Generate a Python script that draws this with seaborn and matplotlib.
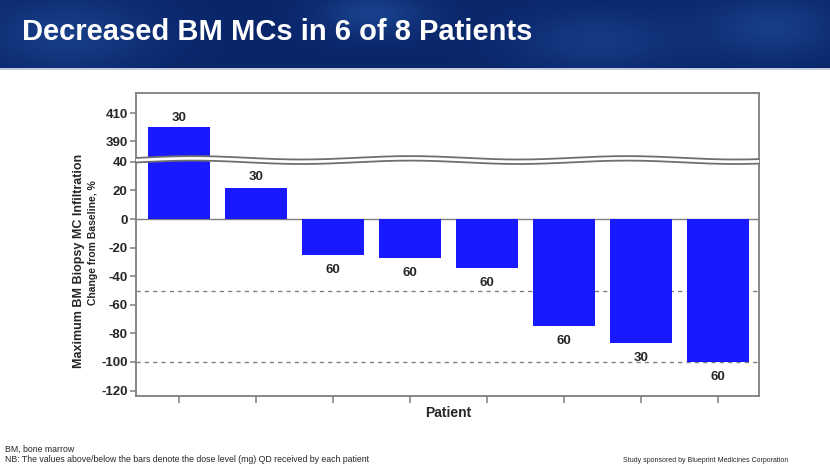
import numpy as np
import pandas as pd
import matplotlib
matplotlib.use("Agg")
import matplotlib.pyplot as plt
import seaborn as sns
from matplotlib.lines import Line2D
from matplotlib.patches import Polygon

# ---- data ----
patients = ["P1", "P2", "P3", "P4", "P5", "P6", "P7", "P8"]
change_pct = [400, 22, -25, -27, -34, -75, -87, -100]
dose_mg = [30, 30, 60, 60, 60, 60, 30, 60]
lower_ticks = [-120, -100, -80, -60, -40, -20, 0, 20, 40]
upper_ticks = [390, 410]
ref_lines = [-50, -100]

title = "Decreased BM MCs in 6 of 8 Patients"
ylabel1 = "Maximum BM Biopsy MC Infiltration"
ylabel2 = "Change from Baseline, %"
xlabel = "Patient"
foot1 = "BM, bone marrow"
foot2 = "NB: The values above/below the bars denote the dose level (mg) QD received by each patient"
foot3 = "Study sponsored by Blueprint Medicines Corporation"

df = pd.DataFrame({"patient": patients, "change": change_pct, "dose": dose_mg})

sns.set_theme(style="white")
plt.rcParams["font.family"] = ["Liberation Sans", "DejaVu Sans"]

W, H = 830, 467
fig = plt.figure(figsize=(W / 100, H / 100), dpi=100)
fig.patch.set_facecolor("white")

def fx(px):
    return px / W

def fy(py):
    return 1 - py / H

# ---- header banner ----
bax = fig.add_axes([0, fy(68), 1, 68 / H])
bax.set_axis_off()
xx, yy = np.meshgrid(np.linspace(0, 1, 400), np.linspace(0, 1, 40))
base = np.array([0.04, 0.15, 0.42])
light = np.array([0.12, 0.30, 0.60])
blob = (0.6 * np.exp(-((xx - 0.08) ** 2 / 0.01 + (yy - 0.5) ** 2 / 0.3))
        + 0.7 * np.exp(-((xx - 0.45) ** 2 / 0.004 + (yy - 0.2) ** 2 / 0.1))
        + 0.5 * np.exp(-((xx - 0.72) ** 2 / 0.01 + (yy - 0.6) ** 2 / 0.2))
        + 0.6 * np.exp(-((xx - 0.93) ** 2 / 0.006 + (yy - 0.4) ** 2 / 0.2)))
blob = np.clip(blob, 0, 1)[..., None]
img = base * (1 - blob) + light * blob
bax.imshow(img, aspect="auto", extent=[0, 1, 0, 1], origin="upper")
bax.set_xlim(0, 1)
bax.set_ylim(0, 1)
fig.add_artist(Line2D([0, 1], [fy(68.5), fy(68.5)], transform=fig.transFigure,
                      color="#b8c4d8", lw=1.2, zorder=3))
fig.text(fx(22), fy(32), title, color="white", fontsize=21, fontweight="bold",
         va="center", ha="left")

# ---- axes ----
left, right = fx(136), fx(759)
ax_up = fig.add_axes([left, fy(158), right - left, fy(93) - fy(158)])
ax_lo = fig.add_axes([left, fy(396), right - left, fy(160) - fy(396)])

bar_color = "#1919ff"
for ax in (ax_up, ax_lo):
    sns.barplot(data=df, x="patient", y="change", ax=ax, color=bar_color,
                saturation=1, width=0.8, edgecolor="none", errorbar=None)
    ax.set_xlim(-0.56, 7.53)
    ax.set_xlabel("")
    ax.set_ylabel("")
    for s in ax.spines.values():
        s.set_color("#7f7f7f")
        s.set_linewidth(1.3)
    ax.tick_params(axis="y", which="both", left=True, length=4, width=1.1,
                   color="#7f7f7f", labelsize=9.5, pad=2)

ax_up.set_ylim(377.9, 424.3)
ax_up.set_yticks(upper_ticks)
ax_up.set_yticklabels([str(t) for t in upper_ticks], fontweight="bold", fontsize=9.5)
ax_up.set_xticks([])
ax_up.spines["bottom"].set_visible(False)

ax_lo.set_ylim(-123.8, 41.3)
ax_lo.set_yticks(lower_ticks)
ax_lo.set_yticklabels([str(t) for t in lower_ticks], fontweight="bold", fontsize=9.5)
ax_lo.spines["top"].set_visible(False)
ax_lo.set_xticks(range(len(patients)))
ax_lo.set_xticklabels([""] * len(patients))
ax_lo.tick_params(axis="x", bottom=True, length=5, width=1.1, color="#7f7f7f",
                  direction="out")
ax_lo.axhline(0, color="#7f7f7f", lw=1.0, zorder=0.5)
for v in ref_lines:
    ax_lo.axhline(v, color="#7f7f7f", lw=1.0, ls=(0, (3, 3)), zorder=0.4)

# ---- bar labels ----
for i, (v, d) in enumerate(zip(change_pct, dose_mg)):
    if v > 300:
        ax_up.annotate(str(d), (i, v), xytext=(0, 2.5), textcoords="offset points",
                       ha="center", va="bottom", fontsize=9.5, fontweight="bold")
    elif v >= 0:
        ax_lo.annotate(str(d), (i, v), xytext=(0, 3), textcoords="offset points",
                       ha="center", va="bottom", fontsize=9.5, fontweight="bold")
    else:
        ax_lo.annotate(str(d), (i, v), xytext=(0, -6.5), textcoords="offset points",
                       ha="center", va="top", fontsize=9.5, fontweight="bold")

# ---- axis break (wavy band) ----
xs = np.linspace(136, 759, 300)
wave = 1.7 * np.cos(2 * np.pi * (xs - 410) / 217)
y_top = 157.8 - wave
y_bot = 162.3 - wave
poly_pts = np.column_stack([np.r_[fx(xs), fx(xs[::-1])],
                            np.r_[fy(y_top), fy(y_bot[::-1])]])
fig.add_artist(Polygon(poly_pts, closed=True, transform=fig.transFigure,
                       facecolor="white", edgecolor="none", zorder=5))
for yl in (y_top, y_bot):
    fig.add_artist(Line2D(fx(xs), fy(yl), transform=fig.transFigure,
                          color="#6f6f6f", lw=1.3, zorder=6))

# ---- labels ----
fig.text(fx(79), fy(261), ylabel1, rotation=90, ha="center", va="center",
         fontsize=9, fontweight="bold")
fig.text(fx(93), fy(243), ylabel2, rotation=90, ha="center", va="center",
         fontsize=7.5, fontweight="bold")
fig.text(fx(448), fy(413), xlabel, ha="center", va="center",
         fontsize=10, fontweight="bold")

fig.text(fx(5), fy(449), foot1, ha="left", va="center", fontsize=6.3)
fig.text(fx(5), fy(459), foot2, ha="left", va="center", fontsize=6.3)
fig.text(fx(623), fy(460), foot3, ha="left", va="center", fontsize=5.0)

fig.savefig("out.png", dpi=100)
